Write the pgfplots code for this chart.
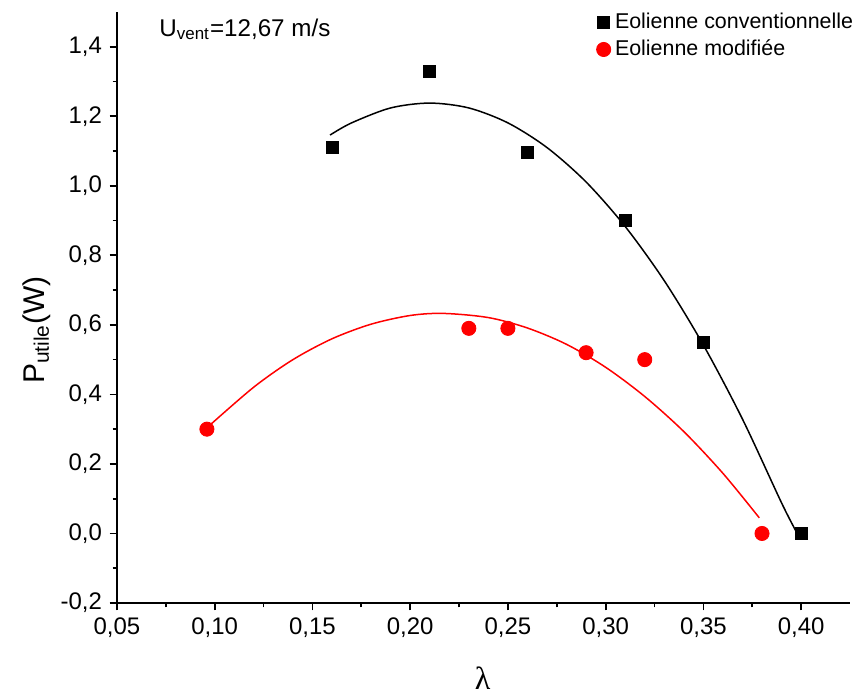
\documentclass[border=0pt]{standalone}
\usepackage{fontspec}
\setmainfont{Liberation Sans}
\newfontfamily\greekserif{Liberation Serif}
\usepackage{pgfplots}
\pgfplotsset{compat=1.18}

\begin{document}
\begin{tikzpicture}
  \begin{axis}[
    scale only axis,
    width=342.3pt, height=276pt,
    xmin=0.05, xmax=0.425,
    ymin=-0.2, ymax=1.5,
    axis x line*=bottom,
    axis y line*=left,
    axis line style={line width=1pt,-},
    tick align=outside,
    major tick length=3.5pt,
    minor tick length=2pt,
    every tick/.style={line width=0.8pt,black},
    xtick={0.05,0.10,...,0.41},
    ytick={-0.2,0,0.2,0.4,0.6,0.8,1.0,1.2,1.4},
    minor tick num=1,
    /pgf/number format/assume math mode=true,
    /pgf/number format/use comma,
    xticklabel style={/pgf/number format/.cd,fixed,fixed zerofill,precision=2},
    yticklabel style={/pgf/number format/.cd,fixed,fixed zerofill,precision=1},
    ticklabel style={font=\fontsize{11.2}{13}\selectfont},
    xlabel={\fontsize{15}{17}\selectfont\greekserif λ},
    ylabel={\fontsize{14}{16}\selectfont P\textsubscript{utile}(W)},
    xlabel style={at={(axis description cs:0.499,-0.128)},anchor=center,inner sep=0pt},
    ylabel style={at={(axis description cs:-0.11,0.462)},anchor=center},
    legend style={at={(axis description cs:0.645,1.014)},anchor=north west,
      draw=none,fill=none,font=\fontsize{10}{11.5}\selectfont,
      row sep=0pt},
    legend cell align=left,
    clip=false,
  ]
    % fitted lines
    \addplot[black, line width=0.7pt, smooth, forget plot] coordinates {
      (0.159,1.146) (0.170,1.181) (0.190,1.224) (0.210,1.238) (0.230,1.224)
      (0.250,1.181) (0.270,1.110) (0.290,1.011) (0.310,0.883) (0.330,0.727)
      (0.350,0.542) (0.370,0.329) (0.390,0.088) (0.398,0.0)};
    \addplot[red, line width=0.7pt, smooth, forget plot] coordinates {
      (0.097,0.309) (0.120,0.421) (0.140,0.500) (0.160,0.560) (0.180,0.602)
      (0.200,0.627) (0.217,0.633) (0.240,0.621) (0.260,0.591) (0.280,0.544)
      (0.300,0.478) (0.320,0.394) (0.340,0.293) (0.360,0.173) (0.3786,0.045)};
    % measured points
    \addplot[only marks, mark=square*, mark size=2.8pt, black] coordinates {
      (0.16,1.11) (0.21,1.33) (0.26,1.095) (0.31,0.90) (0.35,0.55) (0.40,0.0)};
    \addlegendentry{Eolienne conventionnelle}
    \addplot[only marks, mark=*, mark size=3.3pt, red] coordinates {
      (0.096,0.30) (0.23,0.59) (0.25,0.59) (0.29,0.52) (0.32,0.50) (0.38,0.0)};
    \addlegendentry{Eolienne modifiée}
    \node[anchor=west, font=\fontsize{11.3}{13}\selectfont, inner sep=0pt]
      at (axis cs:0.0715,1.45) {U\textsubscript{vent}=12,67 m/s};
    \coordinate (bbl) at (axis cs:0.05,-0.2);
  \end{axis}
  \pgfresetboundingbox
  \path[use as bounding box] ([shift={(-54.64pt,-45.3pt)}]bbl) rectangle ([shift={(347.45pt,281.6pt)}]bbl);
\end{tikzpicture}
\end{document}
